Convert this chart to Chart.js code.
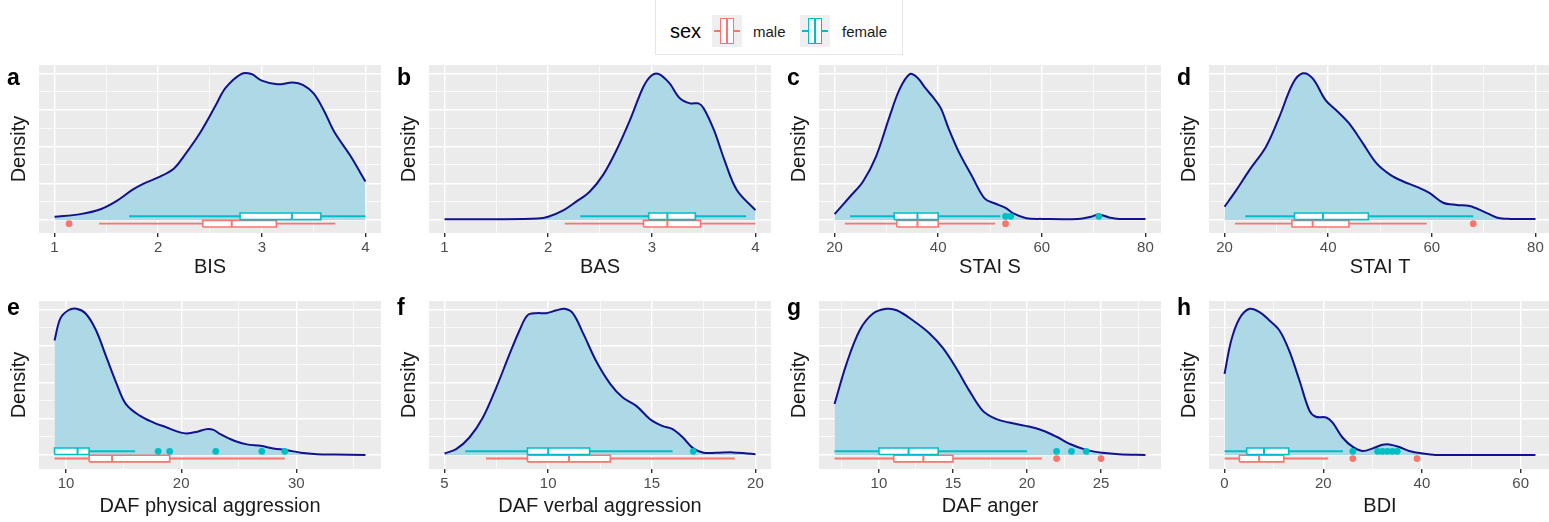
<!DOCTYPE html>
<html>
<head>
<meta charset="utf-8">
<script src="https://cdn.jsdelivr.net/npm/chart.js@4.4.1/dist/chart.umd.min.js"></script>
<style>
  body { margin: 0; background: #fff; font-family: "Liberation Sans", Arial, sans-serif; }
  #page { position: relative; width: 1549px; height: 522px; overflow: hidden; }
  #page canvas { position: absolute; }
  .letter { position: absolute; font-weight: bold; font-size: 23px; line-height: 23px; color: #000; }
  #legendBox { position: absolute; left: 655px; top: -1px; width: 248px; height: 56px; box-sizing: border-box;
    border: 1px solid #e6e6e6; border-top: none; }
  .legTitle { position: absolute; font-size: 20px; line-height: 20px; color: #000; }
  .legText { position: absolute; font-size: 15px; line-height: 15px; color: #1a1a1a; }
  .key { position: absolute; width: 30px; height: 32px; background: #efefef; }
  .key .wh { position: absolute; left: 2px; width: 26px; top: 15px; height: 1.6px; }
  .key .bx { position: absolute; left: 8px; width: 14px; top: 3px; height: 26px; box-sizing: border-box; background: #fff; border: 1.6px solid; }
  .key .md { position: absolute; left: 14.2px; width: 1.8px; top: 3px; height: 26px; }
</style>
</head>
<body>
<div id="page">
  <div id="legendBox"></div>
  <div class="legTitle" style="left:670px;top:21px;">sex</div>
  <div class="key" style="left:712px;top:15px;">
    <div class="wh" style="background:#F8766D"></div>
    <div class="bx" style="border-color:#F8766D"></div>
    <div class="md" style="background:#F8766D"></div>
  </div>
  <div class="legText" style="left:753px;top:24px;">male</div>
  <div class="key" style="left:800px;top:15px;">
    <div class="wh" style="background:#00BFC4"></div>
    <div class="bx" style="border-color:#00BFC4"></div>
    <div class="md" style="background:#00BFC4"></div>
  </div>
  <div class="legText" style="left:842px;top:24px;">female</div>
</div>
<script>
// panel labels and axis titles
const letters = ['a', 'b', 'c', 'd', 'e', 'f', 'g', 'h'];
const axisTitles = ['BIS', 'BAS', 'STAI S', 'STAI T', 'DAF physical aggression', 'DAF verbal aggression', 'DAF anger', 'BDI'];

// boxplot stats are [min, q1, median, q3, max]
// a - BIS
const bisX = [1.0, 1.25, 1.45, 1.6, 1.75, 1.85, 2.0, 2.15, 2.25, 2.4, 2.55, 2.65, 2.8, 2.9, 3.0, 3.15, 3.3, 3.4, 3.5, 3.6, 3.7, 3.85, 4.0];
const bisY = [0.09, 0.16, 0.3, 0.52, 0.82, 0.98, 1.16, 1.4, 1.75, 2.36, 3.1, 3.6, 3.98, 3.98, 3.8, 3.7, 3.75, 3.68, 3.45, 2.98, 2.4, 1.77, 1.05];
const bisFemale = [1.72, 2.79, 3.29, 3.57, 4.0];
const bisMale = [1.43, 2.43, 2.71, 3.14, 3.71];
const bisFemaleOut = [];
const bisMaleOut = [1.14];
const bisTicks = [1, 2, 3, 4];

// b - BAS
const basX = [1.0, 1.5, 1.9, 2.0, 2.15, 2.27, 2.4, 2.53, 2.66, 2.79, 2.92, 3.0, 3.07, 3.17, 3.27, 3.37, 3.45, 3.5, 3.6, 3.7, 3.82, 4.0];
const basY = [0.02, 0.02, 0.04, 0.09, 0.27, 0.5, 0.77, 1.23, 1.91, 2.73, 3.64, 3.95, 3.98, 3.73, 3.32, 3.18, 3.18, 3.05, 2.45, 1.64, 0.82, 0.27];
const basFemale = [2.31, 2.97, 3.15, 3.42, 3.91];
const basMale = [2.16, 2.92, 3.15, 3.47, 4.0];
const basFemaleOut = [];
const basMaleOut = [];
const basTicks = [1, 2, 3, 4];

// c - STAI S
const staisX = [20, 23, 25.5, 28, 30.5, 32.5, 34.5, 36, 37.5, 39, 40.5, 42, 44, 46.5, 49, 51, 53, 54.5, 57, 60, 67, 69.5, 71, 73, 75, 80];
const staisY = [0.16, 0.64, 1.05, 1.73, 2.77, 3.55, 3.98, 3.88, 3.6, 3.35, 3.05, 2.5, 1.85, 1.2, 0.58, 0.45, 0.33, 0.18, 0.05, 0.03, 0.03, 0.09, 0.15, 0.07, 0.03, 0.03];
const staisFemale = [23, 31.5, 36, 40, 52];
const staisMale = [22, 32, 36, 40, 51];
const staisFemaleOut = [53, 54, 71];
const staisMaleOut = [53];
const staisTicks = [20, 40, 60, 80];

// d - STAI T
const staitX = [20, 22.3, 24.8, 28, 30.6, 33.2, 35.1, 37, 39.5, 41.5, 44, 46.7, 49.3, 52, 54.5, 57, 59.6, 62.2, 64.8, 67.3, 70, 72.5, 75, 80];
const staitY = [0.36, 0.82, 1.36, 2.0, 2.82, 3.73, 4.0, 3.86, 3.27, 3.0, 2.64, 2.09, 1.55, 1.23, 1.05, 0.91, 0.73, 0.47, 0.41, 0.38, 0.23, 0.07, 0.03, 0.03];
const staitFemale = [24, 33.5, 39, 47.75, 68];
const staitMale = [22, 33, 37, 44, 59];
const staitFemaleOut = [];
const staitMaleOut = [68];
const staitTicks = [20, 40, 60, 80];

// e - DAF physical aggression
const dafpX = [9, 9.5, 10.2, 10.9, 11.7, 12.6, 13.5, 14.4, 15.2, 16.4, 17.6, 18.7, 19.9, 20.5, 21.4, 22.2, 22.8, 23.4, 24.6, 25.7, 26.9, 28, 29.2, 30.4, 31.8, 33.3, 36];
const dafpY = [3.15, 3.75, 3.98, 4.02, 3.89, 3.43, 2.69, 1.95, 1.4, 1.08, 0.89, 0.76, 0.62, 0.59, 0.64, 0.71, 0.69, 0.57, 0.39, 0.29, 0.25, 0.18, 0.13, 0.06, 0.02, 0.01, 0.0];
const dafpFemale = [9, 9, 11, 12, 16];
const dafpMale = [9, 12, 14, 19, 29];
const dafpFemaleOut = [18, 19, 23, 27, 29];
const dafpMaleOut = [];
const dafpTicks = [10, 20, 30];

// f - DAF verbal aggression
const dafvX = [5, 5.56, 6.2, 6.85, 7.5, 8.14, 8.62, 9.0, 9.43, 9.9, 10.4, 10.8, 11.2, 11.7, 12.3, 13.0, 13.6, 14.25, 14.9, 15.5, 16.0, 16.5, 17.0, 17.5, 18.1, 18.9, 19.6, 20];
const dafvY = [0.04, 0.16, 0.48, 1.03, 1.86, 2.78, 3.43, 3.84, 3.9, 3.9, 3.98, 4.02, 3.89, 3.33, 2.6, 1.95, 1.58, 1.35, 0.99, 0.8, 0.71, 0.48, 0.18, 0.06, 0.06, 0.07, 0.04, 0.02];
const dafvFemale = [6, 9, 10, 12, 16];
const dafvMale = [7, 9, 11, 13, 19];
const dafvFemaleOut = [17];
const dafvMaleOut = [];
const dafvTicks = [5, 10, 15, 20];

// g - DAF anger
const dafaX = [7, 7.8, 8.7, 9.6, 10.5, 11.2, 12.3, 13.4, 14.3, 15.2, 16.1, 17, 17.9, 18.8, 19.9, 21, 22, 22.9, 24, 25.1, 26.2, 28];
const dafaY = [1.4, 2.5, 3.43, 3.89, 4.02, 3.98, 3.7, 3.35, 2.95, 2.4, 1.77, 1.22, 0.99, 0.89, 0.8, 0.68, 0.5, 0.3, 0.14, 0.06, 0.02, 0.0];
const dafaFemale = [7, 10, 12, 14, 20];
const dafaMale = [7, 11, 13, 15, 21];
const dafaFemaleOut = [22, 23, 24];
const dafaMaleOut = [22, 25];
const dafaTicks = [10, 15, 20, 25];

// h - BDI
const bdiX = [0, 1.35, 3.0, 5.06, 7.1, 9.1, 11.1, 13.1, 15.2, 17.2, 18.5, 20.6, 21.9, 23.9, 26, 28, 30, 32, 33.4, 35.4, 37.4, 40.1, 42.8, 50, 63];
const bdiY = [2.23, 3.15, 3.75, 4.02, 3.93, 3.7, 3.43, 2.87, 2.04, 1.22, 1.05, 1.03, 0.89, 0.48, 0.22, 0.11, 0.18, 0.28, 0.29, 0.22, 0.11, 0.04, 0.0, 0.0, 0.0];
const bdiFemale = [0, 4.5, 8, 13, 24];
const bdiMale = [0, 3, 7, 12, 21];
const bdiFemaleOut = [26, 31, 32, 33, 34, 35];
const bdiMaleOut = [26, 39];
const bdiTicks = [0, 20, 40, 60];

const panels = [
  { dx: bisX, dy: bisY, fBox: bisFemale, mBox: bisMale, fOut: bisFemaleOut, mOut: bisMaleOut, ticks: bisTicks },
  { dx: basX, dy: basY, fBox: basFemale, mBox: basMale, fOut: basFemaleOut, mOut: basMaleOut, ticks: basTicks },
  { dx: staisX, dy: staisY, fBox: staisFemale, mBox: staisMale, fOut: staisFemaleOut, mOut: staisMaleOut, ticks: staisTicks },
  { dx: staitX, dy: staitY, fBox: staitFemale, mBox: staitMale, fOut: staitFemaleOut, mOut: staitMaleOut, ticks: staitTicks },
  { dx: dafpX, dy: dafpY, fBox: dafpFemale, mBox: dafpMale, fOut: dafpFemaleOut, mOut: dafpMaleOut, ticks: dafpTicks },
  { dx: dafvX, dy: dafvY, fBox: dafvFemale, mBox: dafvMale, fOut: dafvFemaleOut, mOut: dafvMaleOut, ticks: dafvTicks },
  { dx: dafaX, dy: dafaY, fBox: dafaFemale, mBox: dafaMale, fOut: dafaFemaleOut, mOut: dafaMaleOut, ticks: dafaTicks },
  { dx: bdiX, dy: bdiY, fBox: bdiFemale, mBox: bdiMale, fOut: bdiFemaleOut, mOut: bdiMaleOut, ticks: bdiTicks }
];

const maleColor = '#F8766D';
const femaleColor = '#00BFC4';
const densLine = '#12128C';
const densFill = '#ADD8E6';
const FONT = '"Liberation Sans", Arial, sans-serif';
const boxHalf = 0.09;

// grey panel background like ggplot
const panelBg = {
  id: 'panelBg',
  beforeDraw(chart) {
    const { ctx, chartArea: a } = chart;
    ctx.save();
    ctx.fillStyle = '#EBEBEB';
    ctx.fillRect(a.left, a.top, a.right - a.left, a.bottom - a.top);
    ctx.restore();
  }
};

function boxDatasets(stats, outs, color, c) {
  const [mn, q1, med, q3, mx] = stats;
  return [
    { data: [{ x: mn, y: c }, { x: mx, y: c }], borderColor: color, borderWidth: 1.9, pointRadius: 0, fill: false, order: 4 },
    { data: [{ x: q1, y: c - boxHalf }, { x: q3, y: c - boxHalf }, { x: q3, y: c + boxHalf }, { x: q1, y: c + boxHalf }, { x: q1, y: c - boxHalf }],
      borderColor: color, backgroundColor: '#ffffff', fill: 'shape', borderWidth: 1.6, pointRadius: 0, order: 3 },
    { data: [{ x: med, y: c - boxHalf }, { x: med, y: c + boxHalf }], borderColor: color, borderWidth: 2, pointRadius: 0, fill: false, order: 2 },
    { data: outs.map(x => ({ x, y: c })), showLine: false, pointRadius: 3.4, pointBackgroundColor: color, pointBorderWidth: 0, order: 1 }
  ];
}

const page = document.getElementById('page');

panels.forEach((p, i) => {
  const row = i < 4 ? 0 : 1;
  const col = i % 4;
  const canvas = document.createElement('canvas');
  canvas.width = 390;
  canvas.height = row === 0 ? 225 : 227;
  canvas.style.left = (390 * col) + 'px';
  canvas.style.top = (row === 0 ? 60 : 295) + 'px';
  page.appendChild(canvas);

  const letter = document.createElement('div');
  letter.className = 'letter';
  letter.textContent = letters[i];
  letter.style.left = (390 * col + 7) + 'px';
  letter.style.top = (row === 0 ? 65.5 : 295.5) + 'px';
  page.appendChild(letter);

  const xmin = Math.min(...p.dx), xmax = Math.max(...p.dx);
  const pad = (xmax - xmin) * 0.05;
  const step = p.ticks[1] - p.ticks[0];
  const isMajorX = v => p.ticks.includes(v);

  new Chart(canvas, {
    type: 'line',
    data: {
      datasets: [
        { data: p.dx.map((x, k) => ({ x, y: p.dy[k] })), borderColor: densLine, backgroundColor: densFill,
          fill: 'origin', borderWidth: 2, pointRadius: 0, tension: 0.35, order: 5 },
        ...boxDatasets(p.fBox, p.fOut, femaleColor, 0.1),
        ...boxDatasets(p.mBox, p.mOut, maleColor, -0.1)
      ]
    },
    options: {
      responsive: false,
      animation: false,
      events: [],
      layout: { padding: { top: row === 0 ? 5 : 6, right: 9, left: 0, bottom: 0 } },
      plugins: { legend: { display: false }, tooltip: { enabled: false } },
      scales: {
        x: {
          type: 'linear',
          min: xmin - pad,
          max: xmax + pad,
          afterBuildTicks: s => {
            const vals = [];
            p.ticks.forEach(t => { vals.push(t); vals.push(t + step / 2); });
            vals.push(p.ticks[0] - step / 2);
            s.ticks = vals.filter(v => v >= s.min && v <= s.max).sort((a, b) => a - b).map(v => ({ value: v }));
          },
          afterFit: s => { s.height = row === 0 ? 52 : 53; },
          grid: {
            color: '#ffffff',
            lineWidth: ctx => (ctx.tick && isMajorX(ctx.tick.value)) ? 1.4 : 0.7,
            drawTicks: true,
            tickLength: 4,
            tickWidth: 1.4,
            tickColor: ctx => (ctx.tick && isMajorX(ctx.tick.value)) ? '#333333' : 'rgba(0,0,0,0)'
          },
          border: { display: false },
          ticks: {
            autoSkip: false, maxRotation: 0, padding: 2, color: '#4D4D4D',
            font: { family: FONT, size: 15 },
            callback: v => isMajorX(v) ? String(v) : ''
          },
          title: {
            display: true, text: axisTitles[i], color: '#1A1A1A',
            font: { family: FONT, size: 20 },
            padding: { top: 0, bottom: row === 0 ? 5.5 : 4 }
          }
        },
        y: {
          type: 'linear',
          min: row === 0 ? -0.355 : -0.387,
          max: row === 0 ? 4.227 : 4.235,
          afterBuildTicks: s => {
            const vals = [];
            for (let v = 0; v <= 4; v += 0.5) vals.push(v);
            s.ticks = vals.map(v => ({ value: v }));
          },
          afterFit: s => { s.width = 39; },
          grid: {
            color: '#ffffff',
            lineWidth: ctx => (ctx.tick && ctx.tick.value % 1 === 0) ? 1.4 : 0.7,
            drawTicks: false
          },
          border: { display: false },
          ticks: { display: false },
          title: {
            display: true, text: 'Density', color: '#1A1A1A',
            font: { family: FONT, size: 20 },
            padding: { top: 7.5, bottom: 0 }
          }
        }
      }
    },
    plugins: [panelBg]
  });
});
</script>
</body>
</html>
